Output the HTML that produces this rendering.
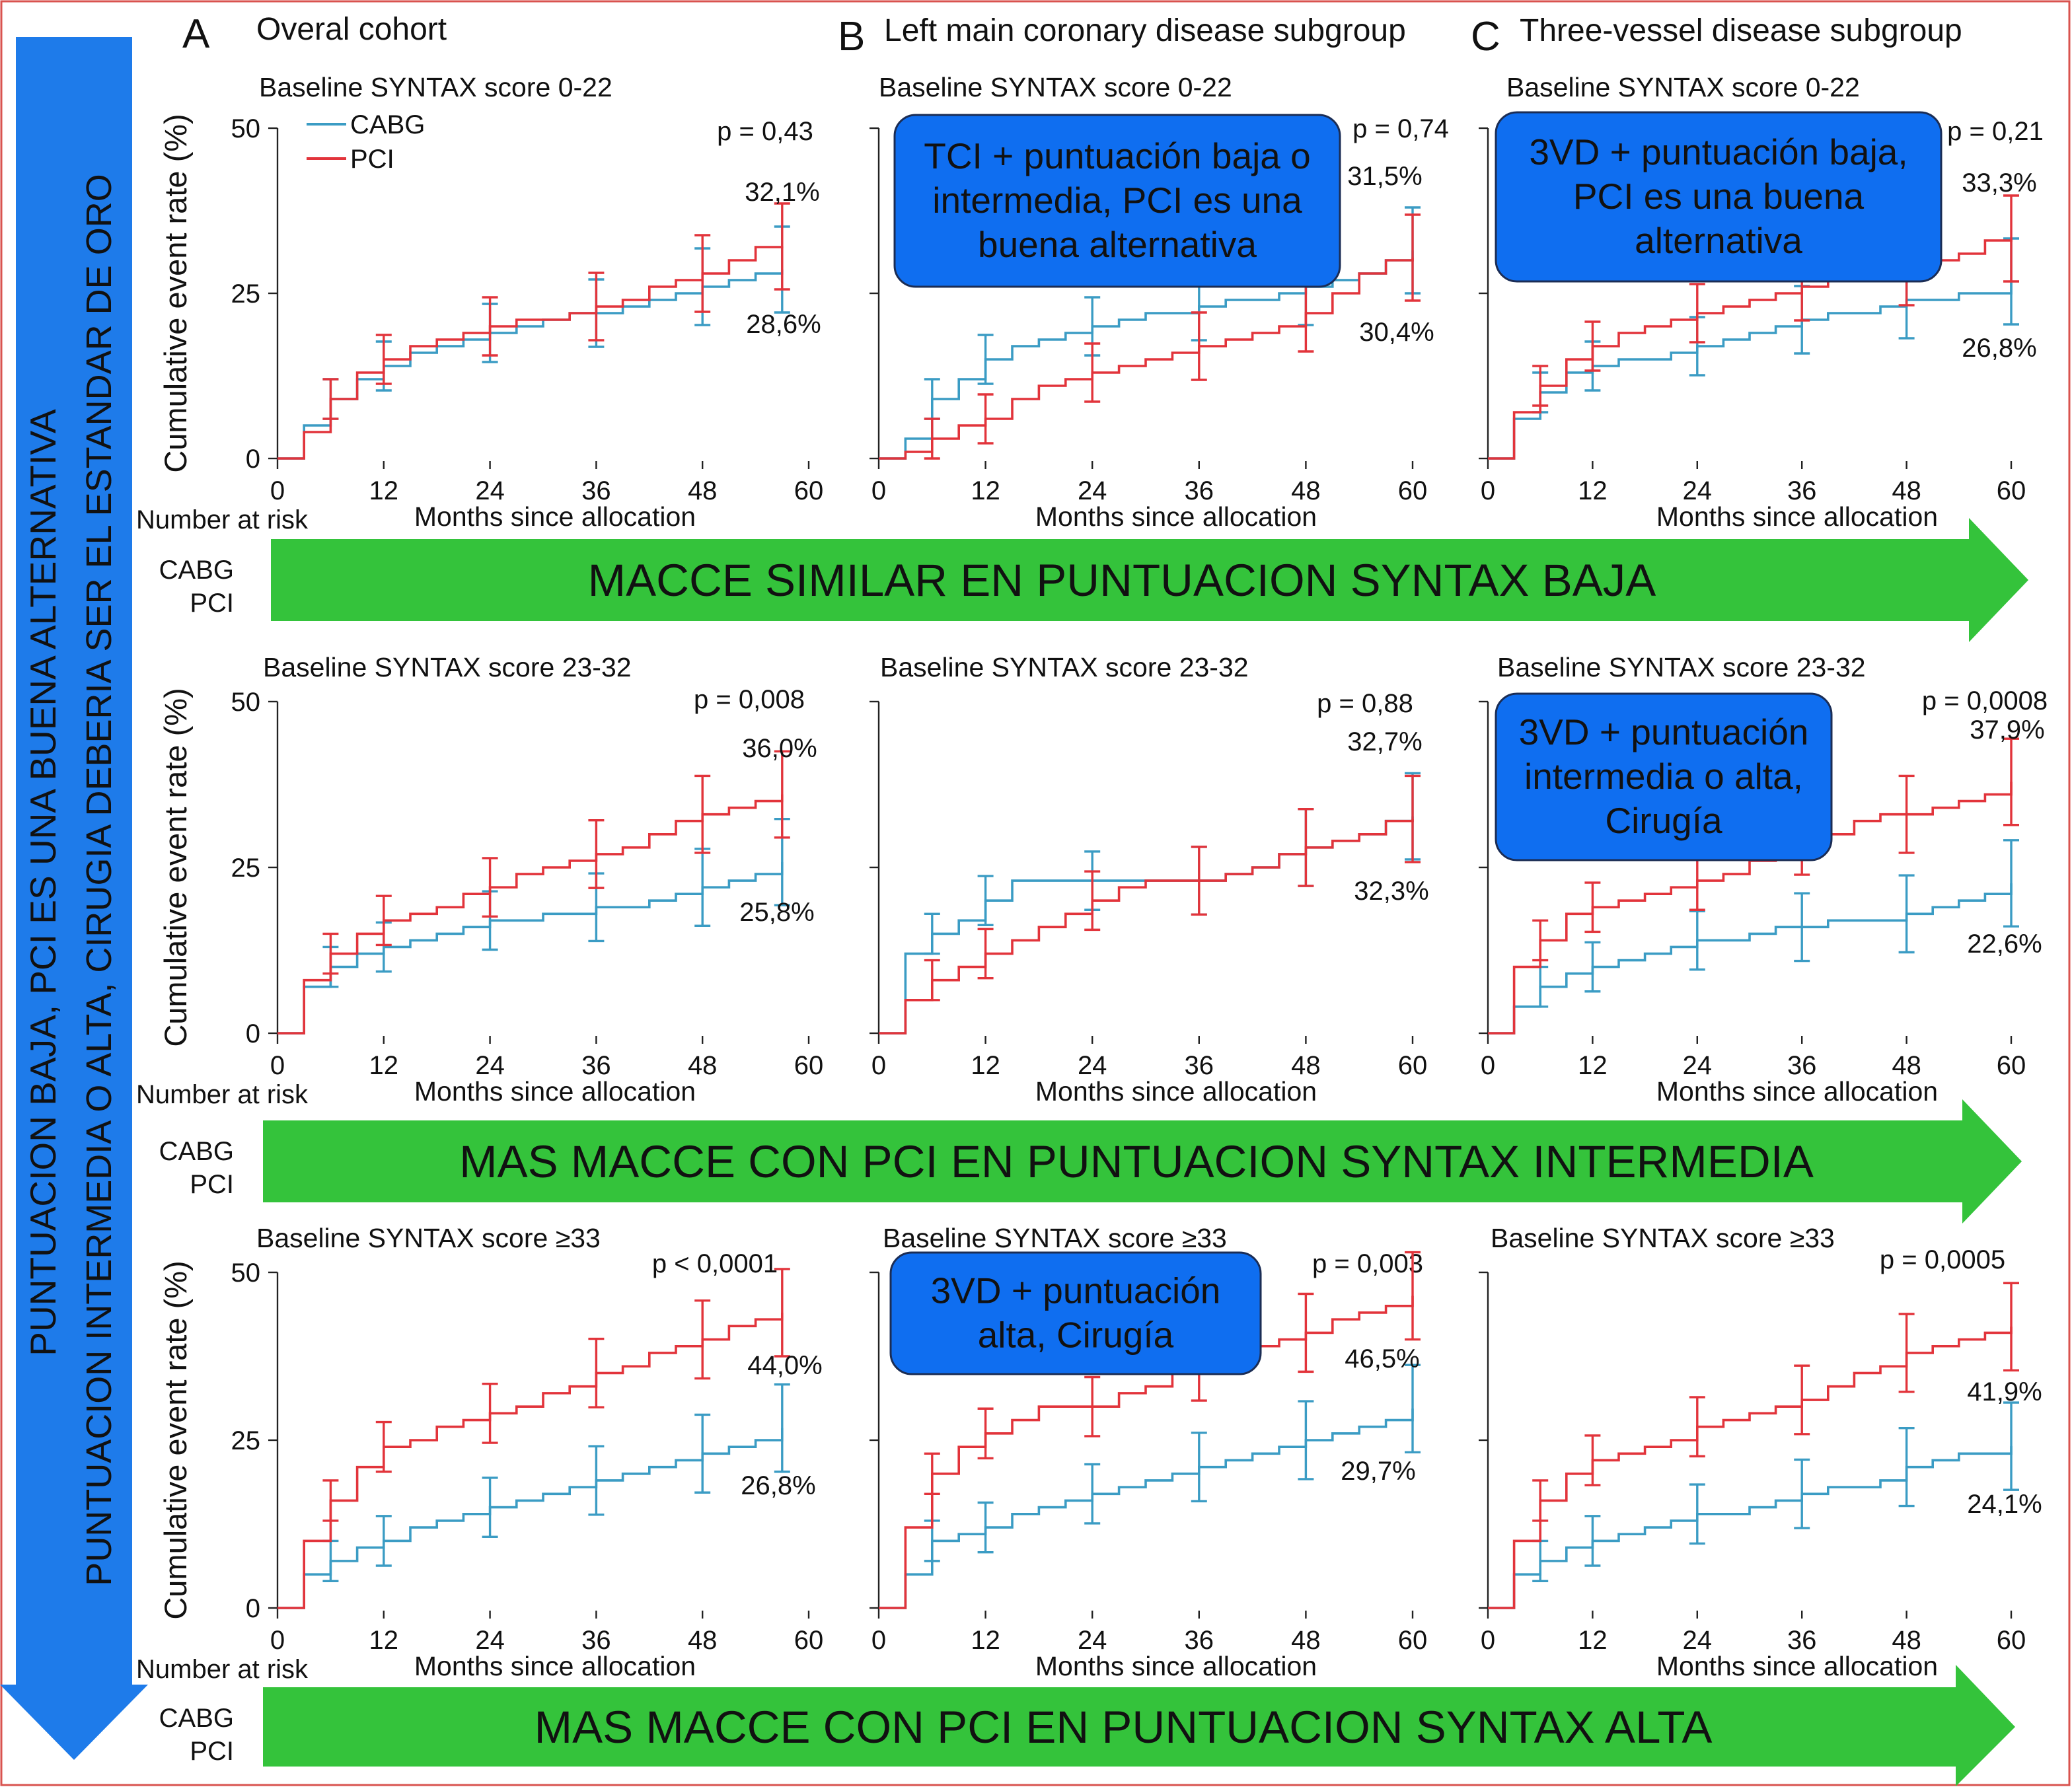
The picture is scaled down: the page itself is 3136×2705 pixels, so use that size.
<!DOCTYPE html>
<html><head><meta charset="utf-8">
<style>
html,body{margin:0;padding:0;background:#fff;}
svg{display:block;font-family:"Liberation Sans",sans-serif;}
</style></head>
<body>
<svg id="root" width="3136" height="2705" viewBox="0 0 1568 1352.5" xmlns="http://www.w3.org/2000/svg">
<rect x="1" y="1" width="1565" height="1350" fill="#fff" stroke="#d9534f" stroke-width="1.5"/>
<polygon points="12,28 100,28 100,1275 112,1275 56,1332 0,1275 12,1275" fill="#1e7bea"/>
<text transform="translate(42,668) rotate(-90)" text-anchor="middle" font-size="27.5" fill="#111">PUNTUACION BAJA, PCI ES UNA BUENA ALTERNATIVA</text>
<text transform="translate(84,666) rotate(-90)" text-anchor="middle" font-size="27" fill="#111">PUNTUACION INTERMEDIA O ALTA, CIRUGIA DEBERIA SER EL ESTANDAR DE ORO</text>
<g font-size="24" fill="#111">
<text x="138" y="36" font-size="31">A</text>
<text x="194" y="30">Overal cohort</text>
<text x="634" y="38" font-size="31">B</text>
<text x="669" y="31">Left main coronary disease subgroup</text>
<text x="1113" y="38" font-size="31">C</text>
<text x="1150" y="31">Three-vessel disease subgroup</text>
</g>
<g id="charts"></g>
<g id="overlay"></g>
</svg>
<script>
const NS="http://www.w3.org/2000/svg";
// ---- data (months every 3) ----
const monthsA=[0,3,6,9,12,15,18,21,24,27,30,33,36,39,42,45,48,51,54,57];
const monthsBC=[0,3,6,9,12,15,18,21,24,27,30,33,36,39,42,45,48,51,54,57,60];
const cabgA1=[0,5,9,12,14,16,17,18,19,20,21,22,22,23,24,25,26,27,28,28.6];
const pciA1=[0,4,9,13,15,17,18,19,20,21,21,22,23,24,26,27,28,30,32,32.1];
const cabgB1=[0,3,9,12,15,17,18,19,20,21,22,22,23,24,24,25,26,27,28,30,31.5];
const pciB1=[0,1,3,5,6,9,11,12,13,14,15,16,17,18,19,20,22,25,28,30,30.4];
const cabgC1=[0,6,10,13,14,15,15,16,17,18,19,20,21,22,22,23,24,24,25,25,26.8];
const pciC1=[0,7,11,15,17,19,20,21,22,23,24,25,26,27,27,28,29,30,31,33,33.3];
const cabgA2=[0,7,10,12,13,14,15,16,17,17,18,18,19,19,20,21,22,23,24,25.8];
const pciA2=[0,8,12,15,17,18,19,21,22,24,25,26,27,28,30,32,33,34,35,36];
const cabgB2=[0,12,15,17,20,23,23,23,23,23,23,23,23,24,25,27,28,29,30,32,32.7];
const pciB2=[0,5,8,10,12,14,16,18,20,22,23,23,23,24,25,27,28,29,30,32,32.3];
const cabgC2=[0,4,7,9,10,11,12,13,14,14,15,16,16,17,17,17,18,19,20,21,22.6];
const pciC2=[0,10,14,18,19,20,21,22,23,24,26,28,29,30,32,33,33,34,35,36,37.9];
const cabgA3=[0,5,7,9,10,12,13,14,15,16,17,18,19,20,21,22,23,24,25,26.8];
const pciA3=[0,10,16,21,24,25,27,28,29,30,32,33,35,36,38,39,40,42,43,44];
const cabgB3=[0,5,10,11,12,14,15,16,17,18,19,20,21,22,23,24,25,26,27,28,29.7];
const pciB3=[0,12,20,24,26,28,30,30,30,32,33,35,36,38,39,40,41,43,44,45,46.5];
const cabgC3=[0,5,7,9,10,11,12,13,14,14,15,16,17,18,18,19,21,22,23,23,24.1];
const pciC3=[0,10,16,20,22,23,24,25,27,28,29,30,31,33,35,36,38,39,40,41,41.9];
const xTicks=[0,12,24,36,48,60];
const yTicks=[0,25,50];
const errMonths=[6,12,24,36,48];
const titles=["Baseline SYNTAX score 0-22","Baseline SYNTAX score 23-32","Baseline SYNTAX score \u226533"];
const pvals=[["p = 0,43","p = 0,74","p = 0,21"],["p = 0,008","p = 0,88","p = 0,0008"],["p < 0,0001","p = 0,003","p = 0,0005"]];
const pciLabels=[["32,1%","31,5%","33,3%"],["36,0%","32,7%","37,9%"],["44,0%","46,5%","41,9%"]];
const cabgLabels=[["28,6%","30,4%","26,8%"],["25,8%","32,3%","22,6%"],["26,8%","29,7%","24,1%"]];

// layout (not data)
const cols=[{x0:210,x1:612,xt:420},{x0:665,x1:1069,xt:890},{x0:1126,x1:1522,xt:1360}];
const rows=[{y0:347,y50:97},{y0:782,y50:531},{y0:1217,y50:963}];
const titleX=[[196,665,1140],[199,666,1133],[194,668,1128]];
const titleY=[73,512,944];
const pPos=[[[579,106],[1060,104],[1510,106]],[[567,536],[1033,539],[1502,537]],[[541,963],[1035,963],[1470,960]]];
const pciPos=[[[592,152],[1048,140],[1513,145]],[[590,573],[1048,568],[1519,559]],[[594,1040],[1046,1035],[1517,1060]]];
const cabgPos=[[[593,252],[1057,258],[1513,270]],[[588,697],[1053,681],[1517,721]],[[589,1131],[1043,1120],[1517,1145]]];
const series=[[[cabgA1,pciA1],[cabgB1,pciB1],[cabgC1,pciC1]],[[cabgA2,pciA2],[cabgB2,pciB2],[cabgC2,pciC2]],[[cabgA3,pciA3],[cabgB3,pciB3],[cabgC3,pciC3]]];
const BLUE="#3b9cc4",RED="#e2343b";
function el(tag,attrs,parent,txt){const e=document.createElementNS(NS,tag);for(const k in attrs)e.setAttribute(k,attrs[k]);if(txt!==undefined)e.textContent=txt;parent.appendChild(e);return e;}
const charts=document.getElementById('charts');
for(let r=0;r<3;r++)for(let c=0;c<3;c++){
  const g=el('g',{},charts);
  
  
  const C=cols[c],R=rows[r];
  const months=c===0?monthsA:monthsBC;
  const xs=m=>C.x0+(C.x1-C.x0)*m/60;
  const ys=v=>R.y0+(R.y50-R.y0)*v/50;
  const ax=el('line',{x1:C.x0,x2:C.x0,y1:R.y50,y2:R.y0+2,stroke:"#222","stroke-width":1.2},g);
  
  yTicks.forEach(t=>{
    el('line',{x1:C.x0-7,x2:C.x0,y1:ys(t),y2:ys(t),stroke:"#222","stroke-width":1.2},g);
    if(c===0){const tl=el('text',{x:C.x0-13,y:ys(t)+7,"text-anchor":"end","font-size":20,fill:"#111"},g,String(t));}
  });
  xTicks.forEach(t=>{
    el('line',{x1:xs(t),x2:xs(t),y1:R.y0+2,y2:R.y0+8,stroke:"#222","stroke-width":1.2},g);
    const tl=el('text',{x:xs(t),y:R.y0+31,"text-anchor":"middle","font-size":20,fill:"#111"},g,String(t));
    
  });
  const xt=el('text',{x:C.xt,y:R.y0+51,"text-anchor":"middle","font-size":20.5,fill:"#111"},g,"Months since allocation");
  
  if(c===0){
    const yt=el('text',{transform:`translate(141,${(R.y0+R.y50)/2}) rotate(-90)`,"text-anchor":"middle","font-size":23.5,fill:"#111"},g,"Cumulative event rate (%)");
    
    const nr=el('text',{x:103,y:R.y0+53,"font-size":20,fill:"#111"},g,"Number at risk");
    
  }
  const tt=el('text',{x:titleX[r][c],y:titleY[r],"font-size":20.5,fill:"#111"},g,titles[r]);
  
  const pv=el('text',{x:pPos[r][c][0],y:pPos[r][c][1],"text-anchor":"middle","font-size":20,fill:"#111"},g,pvals[r][c]);
  
  [0,1].forEach(s=>{
    const vals=series[r][c][s];const col=s===0?BLUE:RED;
    let d="M"+xs(months[0])+","+ys(vals[0]);
    for(let i=1;i<months.length;i++){d+=" H"+xs(months[i])+" V"+ys(vals[i]);}
    const p=el('path',{d:d,fill:"none",stroke:col,"stroke-width":1.8},g);
    
    const last=months[months.length-1];
    errMonths.concat([last]).forEach((m,j)=>{
      const i=months.indexOf(m);
      const v=vals[i];const h=3+j*0.7;const x=xs(m);
      const e=el('path',{d:`M${x},${ys(v-h)} V${ys(v+h)} M${x-6},${ys(v-h)} H${x+6} M${x-6},${ys(v+h)} H${x+6}`,stroke:col,"stroke-width":1.7,fill:"none"},g);
      
    });
    const lv=s===0?cabgLabels[r][c]:pciLabels[r][c];
    const pos=s===0?cabgPos[r][c]:pciPos[r][c];
    const lt=el('text',{x:pos[0],y:pos[1],"text-anchor":"middle","font-size":20,fill:"#111"},g,lv);
    
  });
}
</script>
<script>
const ov=document.getElementById('overlay');
function mk(tag,attrs,txt){const e=document.createElementNS("http://www.w3.org/2000/svg",tag);for(const k in attrs)e.setAttribute(k,attrs[k]);if(txt!==undefined)e.textContent=txt;ov.appendChild(e);return e;}
let e;
e=mk('line',{x1:232,x2:262,y1:94,y2:94,stroke:"#3b9cc4","stroke-width":2});
e=mk('text',{x:265,y:101,"font-size":20,fill:"#111"},"CABG");
e=mk('line',{x1:232,x2:262,y1:120,y2:120,stroke:"#e2343b","stroke-width":2});
e=mk('text',{x:265,y:127,"font-size":20,fill:"#111"},"PCI");
const arrows=[[205,1490,1535,408,470,392,486,"MACCE SIMILAR EN PUNTUACION SYNTAX BAJA",849],[199,1485,1530,848,910,832,926,"MAS MACCE CON PCI EN PUNTUACION SYNTAX INTERMEDIA",860],[199,1480,1525,1277,1337,1260,1352,"MAS MACCE CON PCI EN PUNTUACION SYNTAX ALTA",850]];
arrows.forEach((a,i)=>{
  const [x0,xb,xt,y0,y1,h0,h1,t,tc]=a;const ym=(y0+y1)/2;
  e=mk('polygon',{points:`${x0},${y0} ${xb},${y0} ${xb},${h0} ${xt},${ym} ${xb},${h1} ${xb},${y1} ${x0},${y1}`,fill:"#34c33b"});
  
  e=mk('text',{x:tc,y:ym+12,"text-anchor":"middle","font-size":34.5,fill:"#111"},t);
  
  e=mk('text',{x:177,y:y0+30,"text-anchor":"end","font-size":20,fill:"#111"},"CABG");
  e=mk('text',{x:177,y:y0+55,"text-anchor":"end","font-size":20,fill:"#111"},"PCI");
});
const boxes=[[677,87,337,130,["TCI + puntuación baja o","intermedia, PCI es una","buena alternativa"]],[1132,85,337,128,["3VD + puntuación baja,","PCI es una buena","alternativa"]],[1132,525,254,126,["3VD + puntuación","intermedia o alta,","Cirugía"]],[674,948,280,92,["3VD + puntuación","alta, Cirugía"]]];
boxes.forEach((b,i)=>{
  const [x,y,w,h,lines]=b;
  e=mk('rect',{x:x,y:y,width:w,height:h,rx:16,fill:"#0f6ef0",stroke:"#1b2d55","stroke-width":1.5});
  
  const lh=33.5,start=y+h/2-(lines.length-1)*lh/2+9;
  lines.forEach((l,j)=>{e=mk('text',{x:x+w/2,y:start+j*lh,"text-anchor":"middle","font-size":27.5,fill:"#111"},l);});
});
</script>
</body></html>
